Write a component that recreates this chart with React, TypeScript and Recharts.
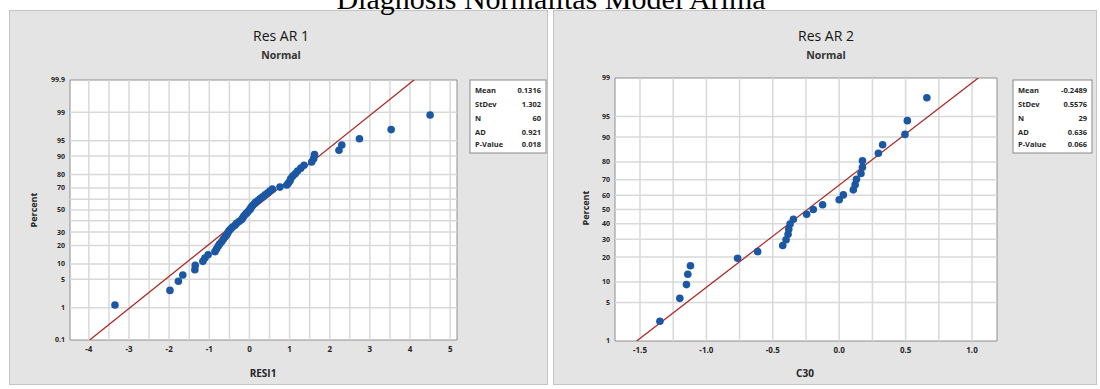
import React from "react";
import {
  ScatterChart,
  Scatter,
  XAxis,
  YAxis,
  ReferenceLine,
  ReferenceArea,
} from "recharts";

// residuals of model AR 1 (sorted) and their plotted percent
const resi1X = [
  -3.35, -1.98, -1.77, -1.66, -1.36, -1.35, -1.16, -1.11, -1.03, -0.86,
  -0.82, -0.78, -0.74, -0.69, -0.65, -0.61, -0.57, -0.54, -0.51, -0.47,
  -0.42, -0.36, -0.32, -0.26, -0.2, -0.17, -0.14, -0.1, -0.06, -0.02,
  0.02, 0.04, 0.08, 0.12, 0.16, 0.22, 0.27, 0.33, 0.39, 0.45,
  0.51, 0.57, 0.76, 0.93, 0.97, 1.01, 1.03, 1.08, 1.14, 1.2,
  1.28, 1.36, 1.55, 1.6, 1.62, 2.23, 2.3, 2.74, 3.53, 4.5,
];
const resi1Pct = [
  1.2, 2.8, 4.5, 6.1, 7.8, 9.4, 11.1, 12.7, 14.4, 16.1,
  17.7, 19.4, 21.0, 22.7, 24.3, 26.0, 27.6, 29.3, 31.0, 32.6,
  34.3, 35.9, 37.6, 39.2, 40.9, 42.5, 44.2, 45.9, 47.5, 49.2,
  50.8, 52.5, 54.1, 55.8, 57.5, 59.1, 60.8, 62.4, 64.1, 65.7,
  67.4, 69.0, 70.7, 72.4, 74.0, 75.7, 77.3, 79.0, 80.6, 82.3,
  84.0, 85.6, 87.3, 88.9, 90.6, 92.2, 93.9, 95.5, 97.2, 98.8,
];

// residuals of model AR 2 (C30)
const c30X = [
  -1.35, -1.2, -1.15, -1.14, -1.12, -0.765, -0.614, -0.425, -0.4, -0.385,
  -0.38, -0.37, -0.345, -0.245, -0.195, -0.125, 0.0, 0.031, 0.106, 0.12,
  0.13, 0.164, 0.175, 0.175, 0.295, 0.327, 0.495, 0.513, 0.66,
];
const c30Pct = [
  2.4, 5.8, 9.2, 12.6, 16.0, 19.4, 22.8, 26.2, 29.6, 33.0,
  36.4, 39.8, 43.2, 46.6, 50.0, 53.4, 56.8, 60.2, 63.6, 67.0,
  70.4, 73.8, 77.2, 80.6, 84.0, 87.4, 90.8, 94.2, 97.6,
];

// fitted normal lines (end points)
const fit1X = [-3.98, 4.1];
const fit1Pct = [0.1, 99.9];
const fit2X = [-1.525, 1.047];
const fit2Pct = [1, 99];

const pctTicks1 = [0.1, 1, 5, 10, 20, 30, 40, 50, 60, 70, 80, 90, 95, 99, 99.9];
const pctTicks2 = [1, 5, 10, 20, 30, 40, 50, 60, 70, 80, 90, 95, 99];
const xTicks1 = [-4, -3, -2, -1, 0, 1, 2, 3, 4, 5];
const xGrid1 = [-4, -3.5, -3, -2.5, -2, -1.5, -1, -0.5, 0, 0.5, 1, 1.5, 2, 2.5, 3, 3.5, 4, 4.5, 5];
const xTicks2 = [-1.5, -1.0, -0.5, 0.0, 0.5, 1.0];
const xGrid2 = [-1.5, -1.25, -1, -0.75, -0.5, -0.25, 0, 0.25, 0.5, 0.75, 1];

const statLabels = ["Mean", "StDev", "N", "AD", "P-Value"];
const stats1 = ["0.1316", "1.302", "60", "0.921", "0.018"];
const stats2 = ["-0.2489", "0.5576", "29", "0.636", "0.066"];

// inverse normal cdf (Acklam), used for the probability scale
function probit(p: number): number {
  const a = [-39.69683028665376, 220.9460984245205, -275.9285104469687, 138.357751867269, -30.66479806614716, 2.506628277459239];
  const b = [-54.47609879822406, 161.5858368580409, -155.6989798598866, 66.80131188771972, -13.28068155288572];
  const c = [-0.007784894002430293, -0.3223964580411365, -2.400758277161838, -2.549732539343734, 4.374664141464968, 2.938163982698783];
  const d = [0.007784695709041462, 0.3224671290700398, 2.445134137142996, 3.754408661907416];
  const pl = 0.02425;
  if (p < pl) {
    const q = Math.sqrt(-2 * Math.log(p));
    return (((((c[0] * q + c[1]) * q + c[2]) * q + c[3]) * q + c[4]) * q + c[5]) / ((((d[0] * q + d[1]) * q + d[2]) * q + d[3]) * q + 1);
  }
  if (p > 1 - pl) {
    const q = Math.sqrt(-2 * Math.log(1 - p));
    return -(((((c[0] * q + c[1]) * q + c[2]) * q + c[3]) * q + c[4]) * q + c[5]) / ((((d[0] * q + d[1]) * q + d[2]) * q + d[3]) * q + 1);
  }
  const q = p - 0.5;
  const r = q * q;
  return ((((((a[0] * r + a[1]) * r + a[2]) * r + a[3]) * r + a[4]) * r + a[5]) * q) / (((((b[0] * r + b[1]) * r + b[2]) * r + b[3]) * r + b[4]) * r + 1);
}

const FONT = "'Open Sans', 'DejaVu Sans', sans-serif";
const TXT = "#262626";

type PanelProps = {
  left: number;
  top: number;
  width: number;
  height: number;
  mTop: number;
  mRight: number;
  yW: number;
  xH: number;
  xs: number[];
  pcts: number[];
  fitX: number[];
  fitPct: number[];
  xDomain: [number, number];
  xTicks: number[];
  xGrid: number[];
  xFmt: (v: number) => string;
  pctTicks: number[];
};

function ProbPanel(p: PanelProps) {
  const pts = p.xs.map((x, i) => ({ x, z: probit(p.pcts[i] / 100) }));
  const fit = p.fitX.map((x, i) => ({ x, z: probit(p.fitPct[i] / 100) }));
  const zTicks = p.pctTicks.map((v) => probit(v / 100));
  const yDomain: [number, number] = [zTicks[0], zTicks[zTicks.length - 1]];
  const label = (v: number) => {
    const i = zTicks.findIndex((t) => Math.abs(t - v) < 1e-9);
    return i >= 0 ? String(p.pctTicks[i]) : "";
  };

  return (
    <>
      {/* white plot background */}
      <div
        style={{
          position: "absolute",
          left: p.left + p.yW,
          top: p.top + p.mTop,
          width: p.width - p.yW - p.mRight,
          height: p.height - p.mTop - p.xH,
          background: "#ffffff",
        }}
      />
      <div style={{ position: "absolute", left: p.left, top: p.top }}>
        <ScatterChart
          width={p.width}
          height={p.height}
          margin={{ top: p.mTop, right: p.mRight, bottom: 0, left: 0 }}
        >
          <XAxis
            type="number"
            dataKey="x"
            domain={p.xDomain}
            ticks={p.xTicks}
            allowDataOverflow
            height={p.xH}
            axisLine={false}
            tickLine={false}
            tickSize={4}
            tickFormatter={p.xFmt}
            tick={{ fontSize: 8, fill: TXT, fontWeight: "bold", fontFamily: FONT }}
          />
          <YAxis
            type="number"
            dataKey="z"
            domain={yDomain}
            ticks={zTicks}
            allowDataOverflow
            width={p.yW}
            axisLine={false}
            tickLine={false}
            tickSize={2}
            tickMargin={3}
            tickFormatter={label}
            tick={{ fontSize: 7, fill: TXT, fontWeight: "bold", fontFamily: FONT }}
          />
          {p.xGrid.map((v) => (
            <ReferenceLine key={"vx" + v} x={v} stroke="#d9d9d9" strokeWidth={1.5} ifOverflow="visible" />
          ))}
          {zTicks.slice(1, -1).map((v, i) => (
            <ReferenceLine key={"hz" + i} y={v} stroke="#d9d9d9" strokeWidth={1.5} ifOverflow="visible" />
          ))}
          <Scatter
            data={fit}
            line={{ stroke: "#ab2b27", strokeWidth: 1.3 }}
            shape={() => <g />}
            isAnimationActive={false}
          />
          <Scatter
            data={pts}
            fill="#1b57a3"
            shape={(s: any) => <circle cx={s.cx} cy={s.cy} r={3.8} fill="#1b57a3" />}
            isAnimationActive={false}
          />
          <ReferenceArea
            x1={p.xDomain[0]}
            x2={p.xDomain[1]}
            y1={yDomain[0]}
            y2={yDomain[1]}
            fill="none"
            stroke="#8e8e8e"
            strokeWidth={1}
            ifOverflow="visible"
          />
        </ScatterChart>
      </div>
    </>
  );
}

function StatsBox({ x, y, w, values }: { x: number; y: number; w: number; values: string[] }) {
  const rows = [10, 24, 38, 52, 64];
  return (
    <g>
      <rect x={x} y={y} width={w} height={73} fill="#ffffff" stroke="#8a8a8a" />
      {statLabels.map((l, i) => (
        <g key={l}>
          <text x={x + 5} y={y + rows[i] + 2.5} fontSize={7.5} fontWeight="bold" fill={TXT} fontFamily={FONT}>
            {l}
          </text>
          <text x={x + w - 5} y={y + rows[i] + 2.5} fontSize={7.5} fontWeight="bold" fill={TXT} fontFamily={FONT} textAnchor="end">
            {values[i]}
          </text>
        </g>
      ))}
    </g>
  );
}

export default function App() {
  return (
    <div style={{ position: "absolute", left: 0, top: 0, width: 1100, height: 389, background: "#ffffff", overflow: "hidden" }}>
      <div style={{ position: "absolute", left: 9, top: 10, width: 539, height: 375, background: "#e4e4e4", border: "1px solid #c4c4c4", boxSizing: "border-box" }} />
      <div style={{ position: "absolute", left: 553, top: 10, width: 544, height: 375, background: "#e4e4e4", border: "1px solid #c4c4c4", boxSizing: "border-box" }} />

      <ProbPanel
        left={9}
        top={10}
        width={539}
        height={375}
        mTop={70}
        mRight={91}
        yW={61}
        xH={45}
        xs={resi1X}
        pcts={resi1Pct}
        fitX={fit1X}
        fitPct={fit1Pct}
        xDomain={[-4.47, 5.17]}
        xTicks={xTicks1}
        xGrid={xGrid1}
        xFmt={(v) => String(v)}
        pctTicks={pctTicks1}
      />
      <ProbPanel
        left={553}
        top={10}
        width={544}
        height={375}
        mTop={68}
        mRight={100}
        yW={62}
        xH={44}
        xs={c30X}
        pcts={c30Pct}
        fitX={fit2X}
        fitPct={fit2Pct}
        xDomain={[-1.688, 1.188]}
        xTicks={xTicks2}
        xGrid={xGrid2}
        xFmt={(v) => v.toFixed(1)}
        pctTicks={pctTicks2}
      />

      <svg width={1100} height={389} style={{ position: "absolute", left: 0, top: 0, pointerEvents: "none" }}>
        <text x={551} y={9} textAnchor="middle" fontSize={30} fontFamily="'Liberation Serif', serif" fill="#000">
          Diagnosis Normalitas Model Arima
        </text>

        <text x={281} y={41} textAnchor="middle" fontSize={14} fill="#151515" fontFamily={FONT}>Res AR 1</text>
        <text x={281} y={59} textAnchor="middle" fontSize={10.5} fontWeight="bold" fill="#333" fontFamily={FONT}>Normal</text>
        <text x={826} y={41} textAnchor="middle" fontSize={14} fill="#151515" fontFamily={FONT}>Res AR 2</text>
        <text x={826} y={59} textAnchor="middle" fontSize={10.5} fontWeight="bold" fill="#333" fontFamily={FONT}>Normal</text>

        <text x={263} y={377} textAnchor="middle" fontSize={10} fontWeight="bold" fill={TXT} fontFamily={FONT}>RESI1</text>
        <text x={805} y={377} textAnchor="middle" fontSize={10} fontWeight="bold" fill={TXT} fontFamily={FONT}>C30</text>
        <text x={0} y={0} transform="translate(37,210) rotate(-90)" textAnchor="middle" fontSize={9} fontWeight="bold" fill={TXT} fontFamily={FONT}>Percent</text>
        <text x={0} y={0} transform="translate(589,208) rotate(-90)" textAnchor="middle" fontSize={9} fontWeight="bold" fill={TXT} fontFamily={FONT}>Percent</text>

        <StatsBox x={470} y={80} w={76} values={stats1} />
        <StatsBox x={1013} y={80} w={79} values={stats2} />
      </svg>
    </div>
  );
}
